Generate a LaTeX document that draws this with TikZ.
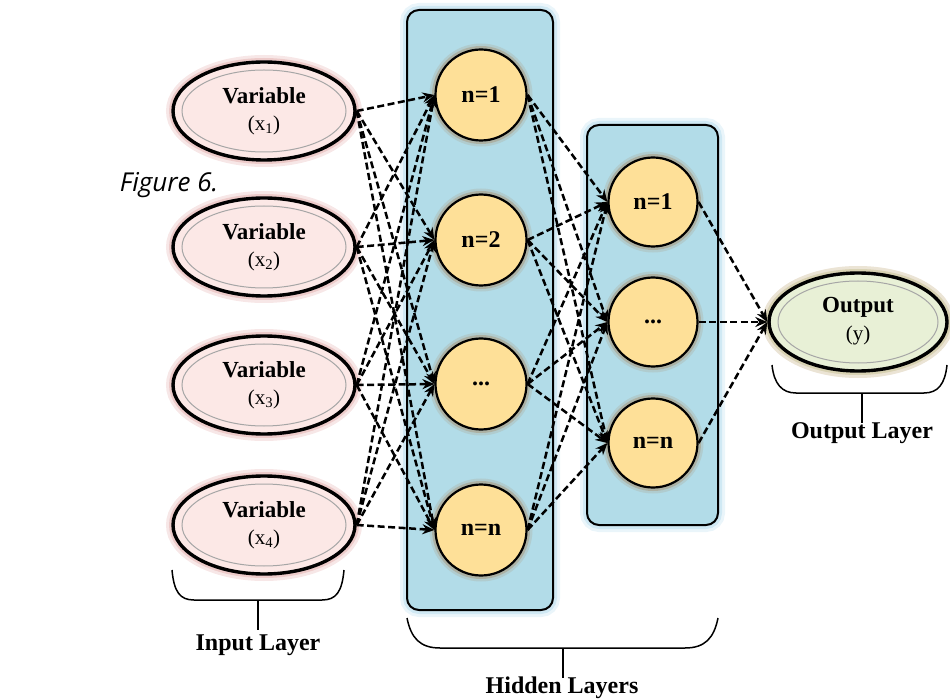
\documentclass[tikz,border=0pt]{standalone}
\usepackage{fontspec}
\setmainfont{Liberation Serif}
\newfontfamily\capfont{Open Sans}
\usetikzlibrary{shapes.geometric,arrows.meta}

\definecolor{inpink}{RGB}{252,232,230}
\definecolor{pinkglow}{RGB}{222,160,158}
\definecolor{layerblue}{RGB}{178,220,232}
\definecolor{blueglow}{RGB}{170,215,235}
\definecolor{neuron}{RGB}{254,224,152}
\definecolor{neuronglow}{RGB}{165,115,65}
\definecolor{outgreen}{RGB}{232,240,214}
\definecolor{greenglow}{RGB}{200,218,160}

\tikzset{
  glow/.style={
    preaction={draw=#1,line width=14pt,draw opacity=0.25},
    preaction={draw=#1,line width=8pt,draw opacity=0.4}},
  softglow/.style={
    preaction={draw=#1,line width=12pt,draw opacity=0.15},
    preaction={draw=#1,line width=7pt,draw opacity=0.3}},
  varnode/.style={ellipse,draw=black,line width=3.4pt,fill=inpink,glow=pinkglow,
    minimum width=182pt,minimum height=98pt,inner sep=0pt,align=center},
  outnode/.style={varnode,fill=outgreen,glow=greenglow,minimum width=178pt},
  innerring/.style={draw=black!35,line width=1pt},
  layerbox/.style={draw=black,line width=2pt,fill=layerblue,rounded corners=12pt,glow=blueglow},
  neuronnode/.style={circle,draw=black,line width=2.2pt,fill=neuron,softglow=neuronglow,
    minimum size=91pt,inner sep=0pt,font=\fontsize{24}{26}\selectfont\bfseries},
  link/.style={draw=black,line width=2.5pt,dash pattern=on 7pt off 3.5pt,
    -{Stealth[length=12pt,width=10pt]}},
  brace/.style={draw=black,line width=1.5pt},
  layerlabel/.style={font=\fontsize{24}{26}\selectfont\bfseries},
  title/.style={font=\fontsize{23}{25}\selectfont\bfseries},
  sub/.style={font=\fontsize{21}{23}\selectfont}
}

\begin{document}
\begin{tikzpicture}[x=1pt,y=-1pt]
\useasboundingbox (0,0) rectangle (950,700);

% caption
\node[font=\capfont\itshape\fontsize{26}{28}\selectfont] (cap) at (169,185) {Figure 6.};

% hidden layer panels
\draw[layerbox] (407,10) rectangle (553,610);
\draw[layerbox] (587,125) rectangle (718,525);

% input variables
\foreach \i/\y in {1/111,2/247,3/385,4/525}{
  \node[varnode] (x\i) at (264,\y) {};
  \draw[innerring] (x\i.center) ellipse [x radius=82pt, y radius=41pt];
  \node[title] (xt\i) at (264,\y-15) {Variable};
  \node[sub] (xs\i) at (264,\y+14) {(x\textsubscript{\i})};
}

% first hidden layer
\node[neuronnode] (h1) at (481,95) {n=1};
\node[neuronnode] (h2) at (481,240) {n=2};
\node[neuronnode] (h3) at (481,384) {...};
\node[neuronnode] (h4) at (481,530) {n=n};

% second hidden layer
\node[neuronnode,minimum size=89pt] (g1) at (653,202) {n=1};
\node[neuronnode,minimum size=89pt] (g2) at (653,322) {...};
\node[neuronnode,minimum size=89pt] (g3) at (653,443) {n=n};

% output
\node[outnode] (y) at (858,322) {};
\draw[innerring] (y.center) ellipse [x radius=80pt, y radius=41pt];
\node[title] (yt) at (858,307) {Output};
\node[sub] (ys) at (858,335) {(y)};

% connections
\foreach \i in {1,...,4}{
  \foreach \j in {1,...,4}{
    \draw[link] (x\i.east) -- (h\j.west);
  }
}
\foreach \i in {1,...,4}{
  \foreach \j in {1,...,3}{
    \draw[link] (h\i.east) -- (g\j.west);
  }
}
\foreach \j in {1,...,3}{
  \draw[link] (g\j.east) -- (y.west);
}

% braces and layer names
\coordinate (bi) at (258,630);
\draw[brace] (172,570) .. controls (174,592) and (180,600) .. (194,600) -- (322,600)
  .. controls (336,600) and (342,592) .. (344,570);
\draw[brace] (258,600) -- (bi);
\node[layerlabel] (li) at (258,645) {Input Layer};

\coordinate (bh) at (563,678);
\draw[brace] (407,618) .. controls (411,638) and (420,648) .. (440,648) -- (685,648)
  .. controls (705,648) and (714,638) .. (718,618);
\draw[brace] (563,648) -- (bh);
\node[layerlabel] (lh) at (562,688) {Hidden Layers};

\coordinate (bo) at (862,423);
\draw[brace] (772,365) .. controls (774,384) and (782,393) .. (796,393) -- (924,393)
  .. controls (938,393) and (945,384) .. (947,365);
\draw[brace] (862,393) -- (bo);
\node[layerlabel] (lo) at (862,433) {Output Layer};
\end{tikzpicture}
\end{document}
